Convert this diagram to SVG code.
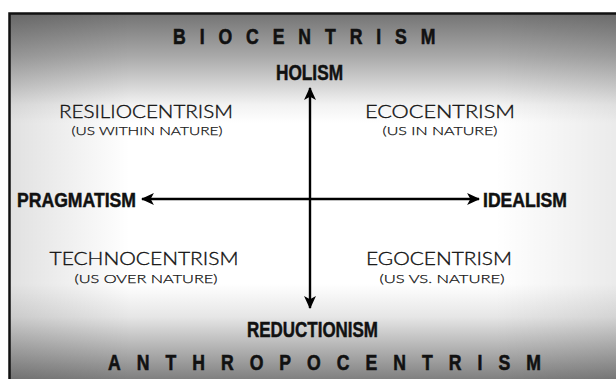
<svg xmlns="http://www.w3.org/2000/svg" width="616" height="379" viewBox="0 0 616 379">
<defs>
<linearGradient id="bgv" x1="0" y1="13" x2="0" y2="379" gradientUnits="userSpaceOnUse">
<stop offset="0" stop-color="#737373"/>
<stop offset="0.12" stop-color="#aaa"/>
<stop offset="0.25" stop-color="#f2f2f2"/>
<stop offset="0.3" stop-color="#fff"/>
<stop offset="0.74" stop-color="#fff"/>
<stop offset="0.83" stop-color="#e6e6e6"/>
<stop offset="1" stop-color="#808080"/>
</linearGradient>
<linearGradient id="bgh" x1="9" y1="0" x2="616" y2="0" gradientUnits="userSpaceOnUse">
<stop offset="0" stop-color="#000" stop-opacity="0.12"/>
<stop offset="0.2" stop-color="#000" stop-opacity="0"/>
<stop offset="0.8" stop-color="#000" stop-opacity="0"/>
<stop offset="1" stop-color="#000" stop-opacity="0.08"/>
</linearGradient>
<marker id="ah" viewBox="0 0 12 12" refX="11" refY="6" markerWidth="13" markerHeight="13" markerUnits="userSpaceOnUse" orient="auto-start-reverse">
<path d="M0,0.5 L12,6 L0,11.5 L3,6 Z" fill="#000"/>
</marker>
<style>
.ax{font-family:"Liberation Sans Narrow","Liberation Sans",Arial,sans-serif;font-weight:bold;fill:#111;stroke:#111;stroke-width:0.5;}
.big{font-family:"Liberation Sans Narrow","Liberation Sans",Arial,sans-serif;font-weight:bold;fill:#111;stroke:#111;stroke-width:0.6;font-size:22px;}
.q{font-family:"Lato","Open Sans","DejaVu Sans",sans-serif;font-weight:300;fill:#111;stroke:#111;stroke-width:0.35;font-size:18.5px;text-anchor:middle;}
.s{font-family:"Lato","Open Sans","DejaVu Sans",sans-serif;font-weight:300;fill:#111;stroke:#111;stroke-width:0.25;font-size:12.5px;text-anchor:middle;}
.ln{stroke:#000;stroke-width:2.4;fill:none;}
</style>
</defs>
<rect x="0" y="0" width="616" height="379" fill="#fff"/>
<rect x="9" y="13" width="620" height="380" fill="url(#bgv)"/>
<rect x="9" y="13" width="620" height="380" fill="url(#bgh)"/>
<path d="M9.5,379 V13.5 H616" stroke="#111" stroke-width="2.5" fill="none"/>

<g id="biocentrism"><text class="big" transform="translate(173,44) scale(0.8,1)" textLength="328" lengthAdjust="spacing">BIOCENTRISM</text></g>
<g id="anthropocentrism"><text class="big" transform="translate(108,370) scale(0.8,1)" textLength="541" lengthAdjust="spacing">ANTHROPOCENTRISM</text></g>

<g id="holism"><text class="ax" x="276" y="80" font-size="22" textLength="67" lengthAdjust="spacingAndGlyphs">HOLISM</text></g>
<g id="reductionism"><text class="ax" x="247" y="337" font-size="22" textLength="131" lengthAdjust="spacingAndGlyphs">REDUCTIONISM</text></g>
<g id="pragmatism"><text class="ax" x="17" y="207" font-size="21" textLength="119" lengthAdjust="spacingAndGlyphs">PRAGMATISM</text></g>
<g id="idealism"><text class="ax" x="483" y="207" font-size="21" textLength="84" lengthAdjust="spacingAndGlyphs">IDEALISM</text></g>

<g id="resiliocentrism">
<text class="q" x="146" y="118" textLength="174" lengthAdjust="spacingAndGlyphs">RESILIOCENTRISM</text>
<text class="s" x="147" y="135" textLength="151" lengthAdjust="spacingAndGlyphs">(US WITHIN NATURE)</text>
</g>
<g id="ecocentrism">
<text class="q" x="440" y="118" textLength="150" lengthAdjust="spacingAndGlyphs">ECOCENTRISM</text>
<text class="s" x="440" y="135" textLength="115" lengthAdjust="spacingAndGlyphs">(US IN NATURE)</text>
</g>
<g id="technocentrism">
<text class="q" x="144" y="265" textLength="189" lengthAdjust="spacingAndGlyphs">TECHNOCENTRISM</text>
<text class="s" x="146" y="283" textLength="143" lengthAdjust="spacingAndGlyphs">(US OVER NATURE)</text>
</g>
<g id="egocentrism">
<text class="q" x="439" y="265" textLength="146" lengthAdjust="spacingAndGlyphs">EGOCENTRISM</text>
<text class="s" x="442" y="283" textLength="125" lengthAdjust="spacingAndGlyphs">(US VS. NATURE)</text>
</g>

<g id="connectors">
<line class="ln" x1="310" y1="88" x2="310" y2="308" marker-start="url(#ah)" marker-end="url(#ah)"/>
<line class="ln" x1="142" y1="199" x2="479" y2="199" marker-start="url(#ah)" marker-end="url(#ah)"/>
</g>
</svg>
